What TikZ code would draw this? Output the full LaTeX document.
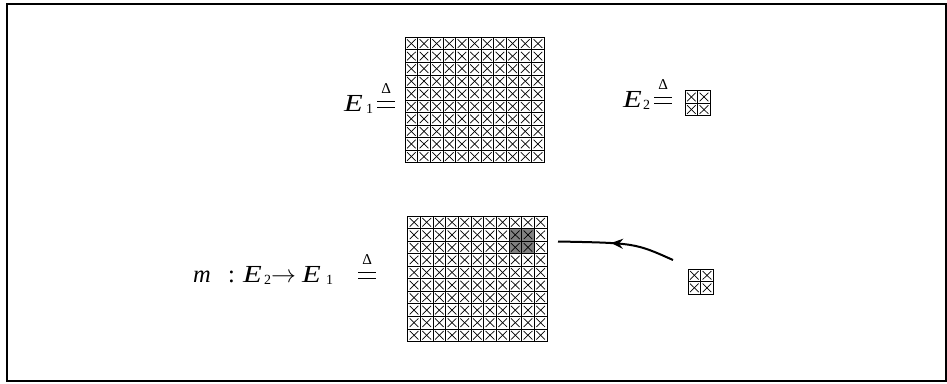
\documentclass[tikz,border=0pt]{standalone}
\usepackage{fontspec}
\setmainfont{Liberation Serif}
\usetikzlibrary{decorations.markings,arrows.meta}
% defined-as symbol: small Delta over a wide equals sign
\newcommand\deqsym{\makebox[18pt][l]{\rlap{\raisebox{18pt}{\makebox[18pt][c]{\fontsize{15}{15}\selectfont Δ}}}\rlap{\raisebox{8.6pt}{\rule{18pt}{1.3pt}}}\raisebox{2.6pt}{\rule{18pt}{1.3pt}}}}
\newcommand\subs[1]{\raisebox{-2.5pt}{\fontsize{14}{14}\selectfont #1}}
\newcommand\myE{\scalebox{1.25}[1]{\textit{E}}}
\tikzset{
  frame/.style={line width=2pt},
  cellbox/.style={line width=0.9pt},
  cellx/.style={line width=0.7pt},
  lbl/.style={font=\fontsize{24.5}{28}\selectfont, inner sep=0pt},
  shade/.style={fill=black!50},
  arr/.style={line width=2pt, postaction={decorate},
    decoration={markings, mark=at position 0.55 with {\arrow{Stealth[length=12pt,width=10pt,inset=4pt]}}}}
}
% grid: #1 x0, #2 y0, #3 cols, #4 rows
\newcommand\xgrid[4]{%
  \begin{scope}[shift={(#1,#2)}]
    \foreach \i in {1,...,#3}{\foreach \j in {1,...,#4}{%
      \draw[cellx] ({(\i-1)*12.66+2},{(\j-1)*12.55+2}) -- ({\i*12.66-2},{\j*12.55-2});
      \draw[cellx] ({(\i-1)*12.66+2},{\j*12.55-2}) -- ({\i*12.66-2},{(\j-1)*12.55+2});
      \draw[cellbox] ({(\i-1)*12.66},{(\j-1)*12.55}) rectangle ({\i*12.66},{\j*12.55});
    }}
  \end{scope}}
\begin{document}
\begin{tikzpicture}[x=1pt,y=-1pt]
\useasboundingbox (0,0) rectangle (947,383);
\draw[frame] (7,4) rectangle (945.5,381);

% top row
\node[lbl, anchor=base west] (e1def) at (344,111) {\makebox[22pt][l]{\myE}\makebox[11pt][l]{\subs{1}}\deqsym};
\xgrid{405}{37.3}{11}{10}

\node[lbl, anchor=base west] (e2def) at (623,107) {\makebox[20pt][l]{\myE}\makebox[11pt][l]{\subs{2}}\deqsym};
\xgrid{685}{90.7}{2}{2}

% bottom row
\node[lbl, anchor=base west] (mdef) at (193,282) {\makebox[35pt][l]{\textit{m}}\makebox[15pt][l]{:}\makebox[21pt][l]{\myE}\makebox[7pt][l]{\subs{2}}\makebox[31pt][l]{$\rightarrow$}\makebox[24pt][l]{\myE}\makebox[32pt][l]{\subs{1}}\deqsym};
\fill[shade] ({407.7+8*12.66},{216+12.55}) rectangle ({407.7+10*12.66},{216+3*12.55});
\xgrid{407.7}{216}{11}{10}
\xgrid{688}{269}{2}{2}

\coordinate (arrstart) at (673,260);
\coordinate (arrend) at (558,241.5);
\draw[arr] (arrstart) .. controls (635,243) .. (arrend);
\end{tikzpicture}
\end{document}
